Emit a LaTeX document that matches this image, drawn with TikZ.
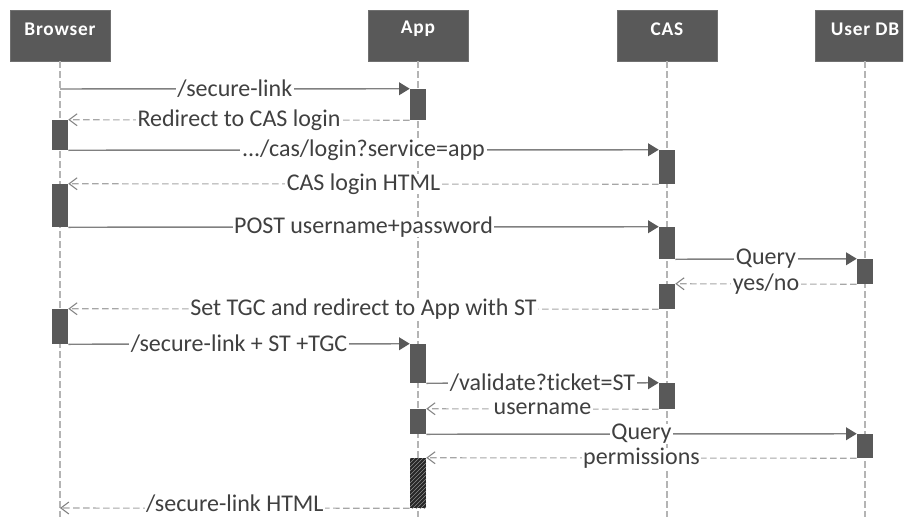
\documentclass[tikz,border=0pt]{standalone}
\usepackage{fontspec}
\setmainfont{Carlito}[Ligatures=NoCommon]
\usetikzlibrary{arrows.meta,fit,patterns}
\definecolor{boxgray}{HTML}{595959}
\definecolor{boxline}{HTML}{707070}
\definecolor{msgline}{HTML}{808080}
\definecolor{retline}{HTML}{A6A6A6}
\definecolor{lifegray}{HTML}{B4B4B4}
\definecolor{txt}{HTML}{404040}
\tikzset{
  actor/.style={fill=boxgray, draw=boxline, line width=0.6pt, inner sep=0pt,
    text=white, font=\fontsize{14.5}{16}\selectfont\bfseries\addfontfeature{LetterSpace=4}},
  lifeline/.style={draw=lifegray, line width=0.8pt, dash pattern=on 5pt off 2.5pt},
  act/.style={fill=boxgray, draw=none, inner sep=0pt},
  hatched/.style={draw=none, inner sep=0pt, preaction={fill=black!85},
    pattern=north east lines, pattern color=boxgray!70},
  call/.style={draw=msgline, line width=1.1pt,
    -{Triangle[length=8pt,width=9.5pt,color=boxgray]}},
  reply/.style={draw=retline, line width=0.8pt, dash pattern=on 5pt off 2.5pt,
    -{Straight Barb[length=6pt,width=9pt,line width=0.8pt,color=msgline]}},
  lbl/.style={midway, fill=white, inner xsep=1.2pt, inner ysep=0pt, text=txt,
    font=\fontsize{18}{20}\selectfont},
}
\begin{document}
\begin{tikzpicture}[x=0.75pt,y=-0.75pt]
\useasboundingbox (0,0) rectangle (906,517);

% participants
\node[actor, fit={(10,10) (110,61)}] (browser) {Browser};
\node[actor, fit={(368,10) (468,61)}] (app) {App};
\node[actor, fit={(617,10) (717,61)}] (cas) {CAS};
\begin{scope}
  \clip (0,0) rectangle (903,517);
  \node[actor, fit={(815,10) (915,61)}] (userdb) {User DB};
\end{scope}

% lifelines
\coordinate (browserEnd) at (60,517);
\coordinate (appEnd) at (418,517);
\coordinate (casEnd) at (667,517);
\coordinate (dbTop) at (865,61);
\coordinate (dbEnd) at (865,517);
\draw[lifeline] (browser.south) -- (browserEnd);
\draw[lifeline] (app.south) -- (appEnd);
\draw[lifeline] (cas.south) -- (casEnd);
\draw[lifeline] (dbTop) -- (dbEnd);

% activation bars
\node[act, fit={(410,89) (426,120)}] (a1) {};
\node[act, fit={(410,344) (426,383)}] (a2) {};
\node[act, fit={(410,409) (426,434)}] (a3) {};
\node[hatched, fit={(410,458) (426,508)}] (a4) {};
\node[act, fit={(52,120) (68,150)}] (b1) {};
\node[act, fit={(52,184) (68,227)}] (b2) {};
\node[act, fit={(52,309) (68,344)}] (b3) {};
\node[act, fit={(659,150) (675,184)}] (c1) {};
\node[act, fit={(659,227) (675,259)}] (c2) {};
\node[act, fit={(659,284) (675,309)}] (c3) {};
\node[act, fit={(659,383) (675,409)}] (c4) {};
\node[act, fit={(857,259) (873,284)}] (u1) {};
\node[act, fit={(857,434) (873,458)}] (u2) {};

% messages
\coordinate (start) at (60,89);
\coordinate (finish) at (60,508);
\draw[call] (start) -- (a1.north west) node[lbl] {/secure-link};
\draw[reply] (a1.south west) -- (b1.north east) node[lbl] {Redirect to CAS login};
\draw[call] (b1.south east) -- (c1.north west) node[lbl] {.../cas/login?service=app};
\draw[reply] (c1.south west) -- (b2.north east) node[lbl] {CAS login HTML};
\draw[call] (b2.south east) -- (c2.north west) node[lbl] {POST username+password};
\draw[call] (c2.south east) -- (u1.north west) node[lbl] {Query};
\draw[reply] (u1.south west) -- (c3.north east) node[lbl] {yes/no};
\draw[reply] (c3.south west) -- (b3.north east) node[lbl] {Set TGC and redirect to App with ST};
\draw[call] (b3.south east) -- (a2.north west) node[lbl] {/secure-link + ST +TGC};
\draw[call] (a2.south east) -- (c4.north west) node[lbl] {/validate?ticket=ST};
\draw[reply] (c4.south west) -- (a3.north east) node[lbl] {username};
\draw[call] (a3.south east) -- (u2.north west) node[lbl] {Query};
\draw[reply] (u2.south west) -- (a4.north east) node[lbl] {permissions};
\draw[reply] (a4.south west) -- (finish) node[lbl, yshift=3pt] {/secure-link HTML};
\end{tikzpicture}
\end{document}
